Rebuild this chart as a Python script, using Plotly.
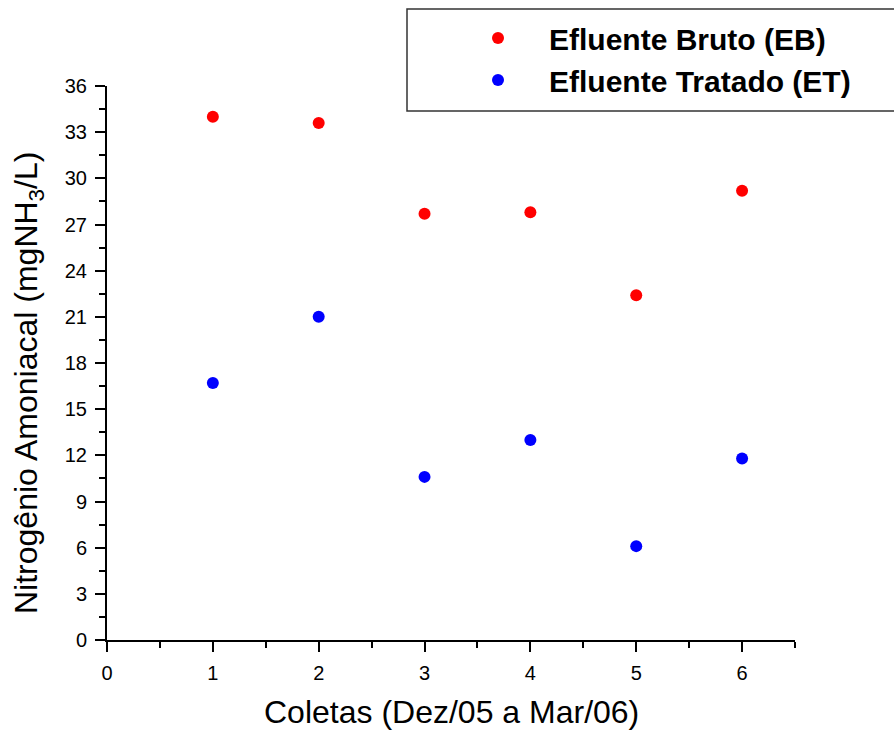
import plotly.graph_objects as go

# Coletas (sampling campaigns) and ammonia nitrogen readings
coletas = [1, 2, 3, 4, 5, 6]
efluente_bruto = [34.0, 33.6, 27.7, 27.8, 22.4, 29.2]
efluente_tratado = [16.7, 21.0, 10.6, 13.0, 6.1, 11.8]

x_ticks = [0, 1, 2, 3, 4, 5, 6]
y_ticks = [0, 3, 6, 9, 12, 15, 18, 21, 24, 27, 30, 33, 36]

FONT = "Liberation Sans, Arial, sans-serif"

fig = go.Figure()
fig.add_trace(go.Scatter(
    x=coletas, y=efluente_bruto, mode="markers", name="Efluente Bruto (EB)",
    marker=dict(color="#ff0000", size=12, line=dict(width=0)),
))
fig.add_trace(go.Scatter(
    x=coletas, y=efluente_tratado, mode="markers", name="Efluente Tratado (ET)",
    marker=dict(color="#0000ff", size=12, line=dict(width=0)),
))

axis_common = dict(
    showgrid=False, zeroline=False, showline=True, linecolor="black", linewidth=2,
    ticks="outside", ticklen=10, tickwidth=2, tickcolor="black",
    tickfont=dict(family=FONT, size=20, color="black"),
)

fig.update_xaxes(
    range=[0, 6.5], tickvals=x_ticks, ticklabelstandoff=4,
    minor=dict(dtick=0.5, ticks="outside", ticklen=6, tickwidth=2, tickcolor="black"),
    **axis_common,
)
fig.update_yaxes(
    range=[0, 36], tickvals=y_ticks, ticklabelstandoff=4,
    minor=dict(dtick=1.5, ticks="outside", ticklen=6, tickwidth=2, tickcolor="black"),
    **axis_common,
)

PLOT_W = 688
PLOT_H = 554
fig.update_layout(
    width=894, height=730,
    margin=dict(l=107, r=99, t=86, b=90, autoexpand=False),
    paper_bgcolor="white", plot_bgcolor="white",
    showlegend=True,
    legend=dict(
        x=(447 - 107) / PLOT_W, y=1.0 + (86 - 12) / PLOT_H, xanchor="left", yanchor="top",
        bgcolor="rgba(0,0,0,0)", borderwidth=0,
        font=dict(family=FONT, size=30, color="black", weight="bold"),
        itemwidth=92, tracegroupgap=0,
    ),
    shapes=[dict(
        type="rect", xref="paper", yref="paper",
        x0=(407 - 107) / PLOT_W, x1=1.2, y0=1.0 - (111 - 86) / PLOT_H, y1=1.0 + (86 - 9) / PLOT_H,
        line=dict(color="#333333", width=1.5), fillcolor="rgba(0,0,0,0)",
    )],
    annotations=[
        dict(
            text="Coletas (Dez/05 a Mar/06)", xref="paper", yref="paper",
            x=0.5, y=-(712 - 640) / PLOT_H, xanchor="center", yanchor="middle",
            showarrow=False, font=dict(family=FONT, size=32, color="black"),
        ),
        dict(
            text="Nitrogênio Amoniacal (mgNH<sub>3</sub>/L)", xref="paper", yref="paper",
            x=-(107 - 28) / PLOT_W, y=(640 - 383) / PLOT_H, xanchor="center", yanchor="middle",
            textangle=-90, showarrow=False, font=dict(family=FONT, size=32, color="black"),
        ),
    ],
)

fig.write_html("out.html")
